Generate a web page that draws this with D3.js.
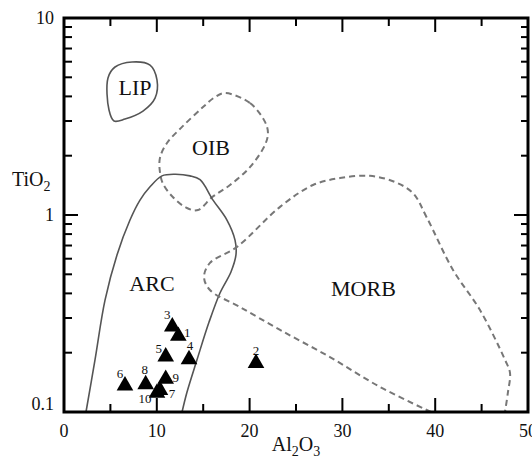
<!DOCTYPE html>
<html>
<head>
<meta charset="utf-8">
<script src="https://cdn.jsdelivr.net/npm/d3@7"></script>
<style>
body { margin: 0; background: #fff; }
text { font-family: "Liberation Serif", "Times New Roman", serif; fill: #111; }
</style>
</head>
<body>
<svg id="chart" width="532" height="460"></svg>
<script>
// samples
var sampleIds = ["1", "2", "3", "4", "5", "6", "7", "8", "9", "10"];
var al2o3 = [12.32, 20.69, 11.67, 13.47, 10.96, 6.57, 10.34, 8.80, 10.96, 10.02];
var tio2  = [0.243, 0.177, 0.271, 0.185, 0.191, 0.136, 0.129, 0.138, 0.147, 0.125];

// field outlines, [Al2O3, TiO2]
var lipField = [[4.74,4.96],[5.50,5.64],[7.33,5.98],[9.27,5.77],[10.02,4.85],[9.81,3.92],
  [8.51,3.37],[6.57,3.07],[5.39,3.00],[4.85,3.41]];
var oibField = [[17.35,4.16],[20.04,3.70],[21.66,2.97],[21.98,2.61],[21.66,2.27],[20.04,1.75],
  [17.89,1.42],[15.95,1.23],[14.44,1.06],[13.25,1.085],[11.75,1.23],[10.67,1.44],[10.34,1.65],
  [10.34,1.95],[11.10,2.32],[12.72,2.80],[14.98,3.53],[16.27,3.97]];
var arcField = [[2.37,0.1],[3.34,0.184],[4.42,0.370],[5.71,0.627],[7.11,0.943],[8.19,1.19],
  [9.27,1.39],[10.56,1.58],[11.96,1.61],[13.58,1.58],[14.66,1.51],[16.06,1.19],[17.56,0.943],
  [18.43,0.746],[18.53,0.627],[17.99,0.514],[16.81,0.402],[15.63,0.286],[14.33,0.184],
  [13.25,0.126],[12.72,0.1]];
var morbField = [[39.55,0.1],[34.05,0.134],[28.66,0.190],[23.28,0.261],[18.97,0.341],[15.73,0.416],
  [15.09,0.485],[15.73,0.571],[18.64,0.689],[23.28,1.10],[26.83,1.42],[29.74,1.54],[32.97,1.58],
  [35.67,1.47],[37.61,1.29],[39.12,0.965],[41.92,0.526],[44.83,0.329],[47.52,0.184],
  [48.06,0.158],[47.84,0.126],[47.52,0.1]];

var fieldNames = ["LIP", "OIB", "ARC", "MORB"];
var fieldLabelX = [7.65, 15.84, 9.48, 32.27];
var fieldLabelY = [4.06, 2.02, 0.411, 0.388];

// ticks
var xMajor = [0, 10, 20, 30, 40, 50];
var xMinor = [5, 15, 25, 35, 45];
var yMajor = [0.1, 1, 10];
var yMinor = [0.2, 0.3, 0.4, 0.5, 0.6, 0.7, 0.8, 0.9, 2, 3, 4, 5, 6, 7, 8, 9];

// sample label offsets from the triangle (px)
var labelDx = [9, 0, -5, 1, -7, -5, 12, -1, 10, -12];
var labelDy = [-4, -13, -12, -14, -8, -12, 3, -15, -2, 6];

var svg = d3.select("#chart");
var padL = 64, padR = 528, padT = 18, padB = 412;

var x = d3.scaleLinear().domain([0, 50]).range([padL, padR]);
var y = d3.scaleLog().domain([0.1, 10]).range([padB, padT]);

var line = d3.line()
  .x(function(d){ return x(d[0]); })
  .y(function(d){ return y(d[1]); });

// fields
svg.append("path").attr("d", line.curve(d3.curveCatmullRomClosed)(lipField))
  .attr("fill", "none").attr("stroke", "#555").attr("stroke-width", 1.6);
svg.append("path").attr("d", line.curve(d3.curveCatmullRomClosed)(oibField))
  .attr("fill", "none").attr("stroke", "#777").attr("stroke-width", 2)
  .attr("stroke-dasharray", "6,4");
svg.append("path").attr("d", line.curve(d3.curveCatmullRom)(arcField))
  .attr("fill", "none").attr("stroke", "#555").attr("stroke-width", 1.6);
svg.append("path").attr("d", line.curve(d3.curveCatmullRom)(morbField))
  .attr("fill", "none").attr("stroke", "#777").attr("stroke-width", 2)
  .attr("stroke-dasharray", "6,4");

svg.selectAll("text.field").data(fieldNames).enter().append("text")
  .attr("class", "field")
  .attr("x", function(d, i){ return x(fieldLabelX[i]); })
  .attr("y", function(d, i){ return y(fieldLabelY[i]); })
  .attr("text-anchor", "middle")
  .style("font-size", "22px")
  .text(function(d){ return d; });

// inward ticks on all four sides, drawn as small filled rects
var tickG = svg.append("g").attr("fill", "#000");
function xTicks(vals, len) {
  tickG.selectAll(null).data(vals).enter().append("rect")
    .attr("x", function(d){ return x(d) - 1; }).attr("y", padB - len)
    .attr("width", 2).attr("height", len);
  tickG.selectAll(null).data(vals).enter().append("rect")
    .attr("x", function(d){ return x(d) - 1; }).attr("y", padT)
    .attr("width", 2).attr("height", len);
}
function yTicks(vals, len, lenR) {
  tickG.selectAll(null).data(vals).enter().append("rect")
    .attr("y", function(d){ return y(d) - 1; }).attr("x", padL)
    .attr("height", 2).attr("width", len);
  tickG.selectAll(null).data(vals).enter().append("rect")
    .attr("y", function(d){ return y(d) - 1; }).attr("x", padR - lenR)
    .attr("height", 2).attr("width", lenR);
}
xTicks(xMajor, 14);
xTicks(xMinor, 8);
yTicks(yMajor, 14, 14);
yTicks(yMinor, 8, 7);

// tick labels
svg.selectAll("text.xlab").data(xMajor).enter().append("text")
  .attr("class", "xlab")
  .attr("x", function(d){ return x(d); }).attr("y", padB + 25)
  .attr("text-anchor", "middle")
  .style("font-size", "18px")
  .text(function(d){ return d; });
svg.selectAll("text.ylab").data(yMajor).enter().append("text")
  .attr("class", "ylab")
  .attr("x", padL - 10)
  .attr("y", function(d){ return y(d) - (d === 0.1 ? 8 : 0); })
  .attr("dy", "0.33em")
  .attr("text-anchor", "end")
  .style("font-size", "18px")
  .text(function(d){ return d3.format("~g")(d); });

// frame
svg.append("rect")
  .attr("x", padL).attr("y", padT)
  .attr("width", padR - padL).attr("height", padB - padT)
  .attr("fill", "none").attr("stroke", "#000").attr("stroke-width", 3);

// axis titles
var yt = svg.append("text").attr("x", 12).attr("y", 186).style("font-size", "20px");
yt.append("tspan").text("TiO");
yt.append("tspan").attr("dy", 5).style("font-size", "14px").text("2");

var xt = svg.append("text").attr("x", 296).attr("y", 451).attr("text-anchor", "middle").style("font-size", "20px");
xt.append("tspan").text("Al");
xt.append("tspan").attr("dy", 5).style("font-size", "14px").text("2");
xt.append("tspan").attr("dy", -5).text("O");
xt.append("tspan").attr("dy", 5).style("font-size", "14px").text("3");

// samples
var tri = d3.symbol().type(d3.symbolTriangle).size(120);
svg.selectAll("path.sample").data(sampleIds).enter().append("path")
  .attr("class", "sample")
  .attr("d", tri)
  .attr("transform", function(d, i){ return "translate(" + x(al2o3[i]) + "," + y(tio2[i]) + ")"; })
  .attr("fill", "#000");

svg.selectAll("text.sample").data(sampleIds).enter().append("text")
  .attr("class", "sample")
  .attr("x", function(d, i){ return x(al2o3[i]) + labelDx[i]; })
  .attr("y", function(d, i){ return y(tio2[i]) + labelDy[i]; })
  .attr("dy", "0.35em")
  .attr("text-anchor", "middle")
  .attr("fill", "#000")
  .style("font-size", "13px")
  .text(function(d){ return d; });
</script>
</body>
</html>
